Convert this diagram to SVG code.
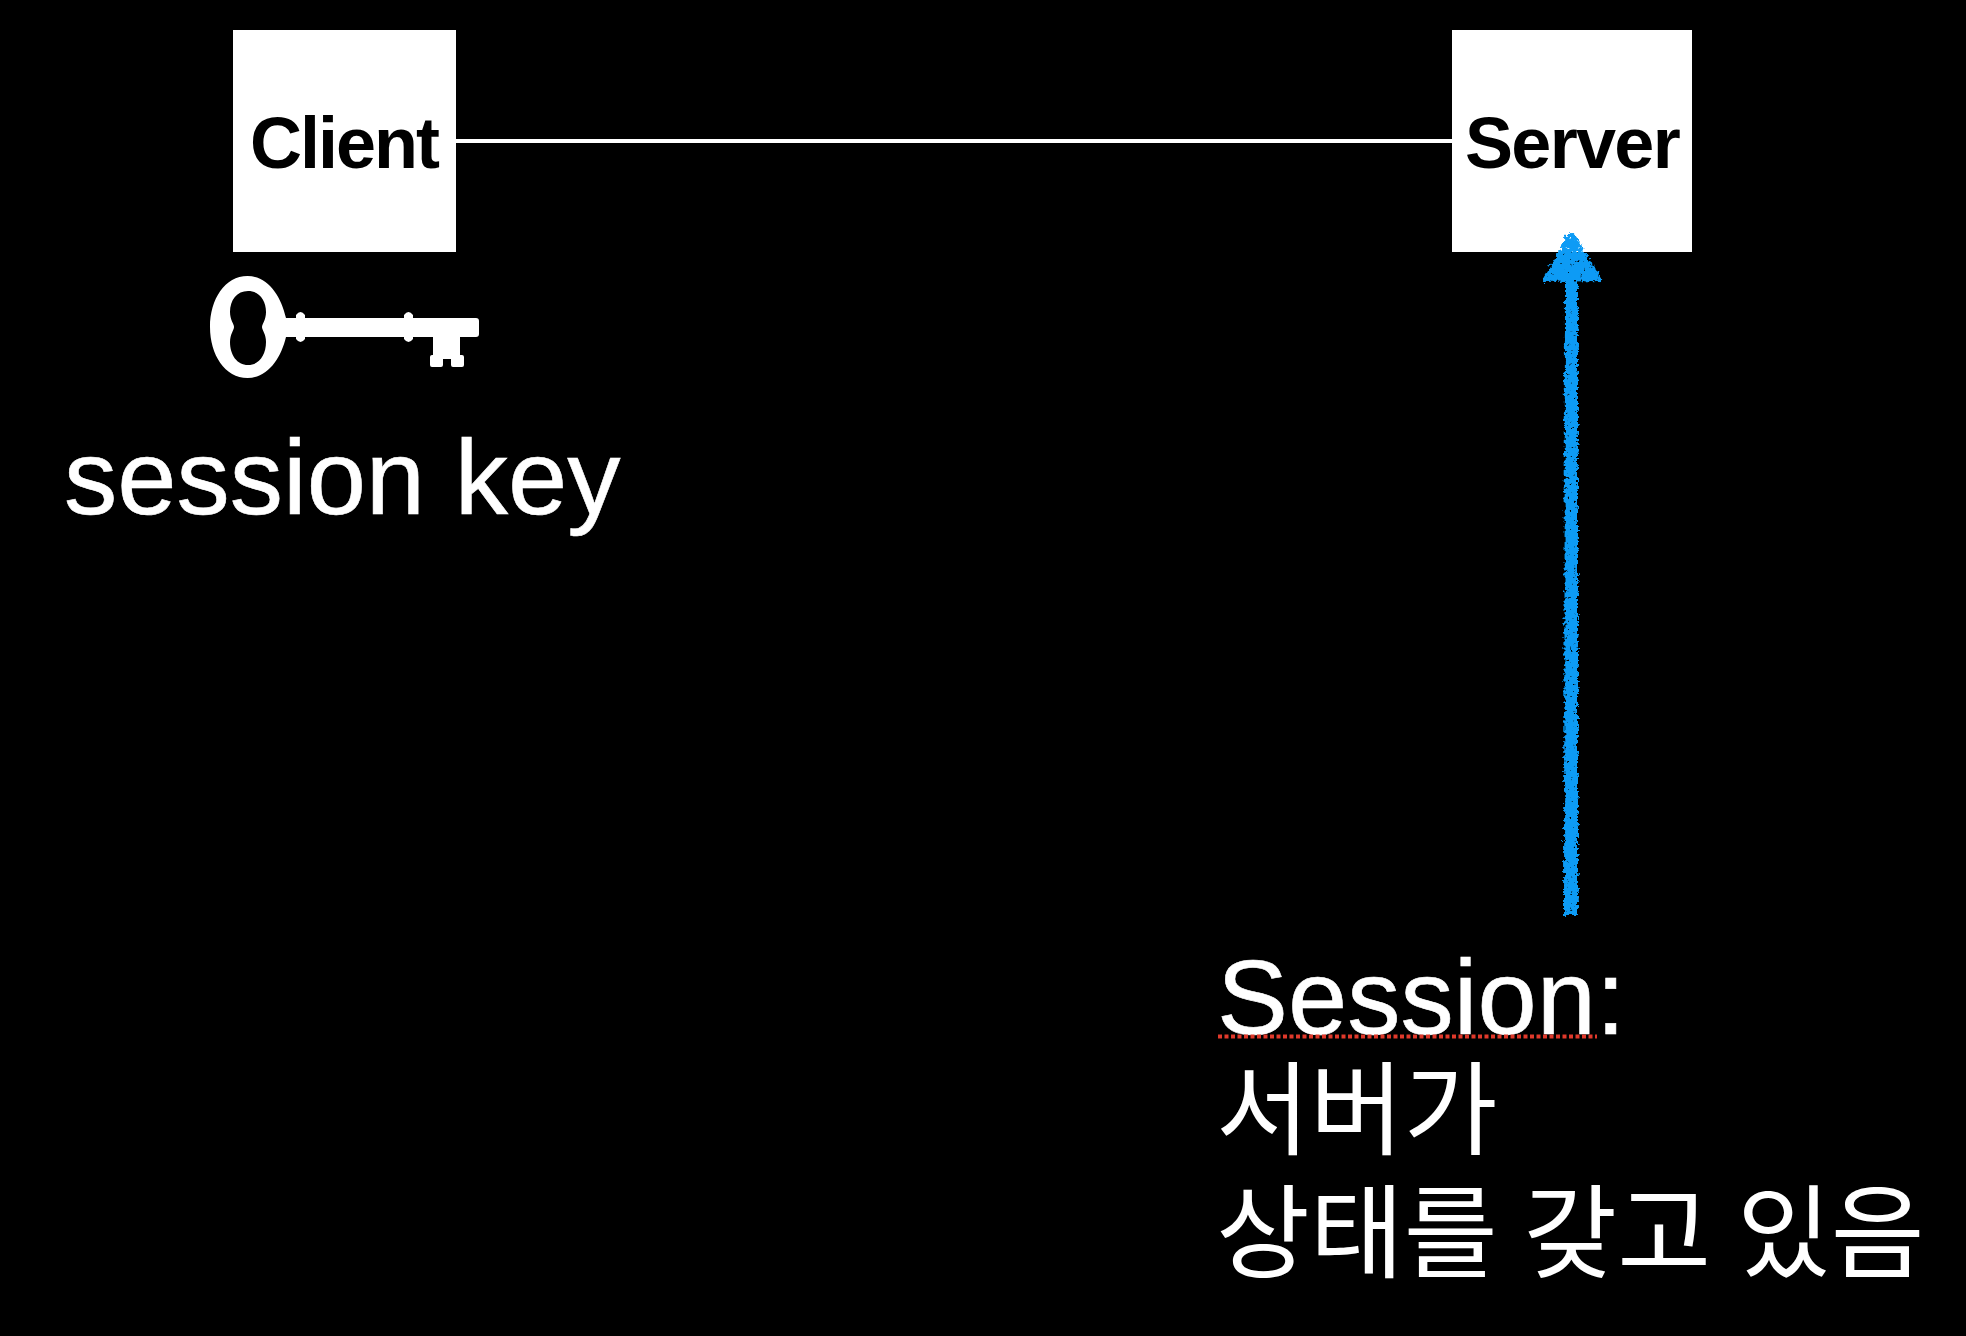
<svg xmlns="http://www.w3.org/2000/svg" width="1966" height="1336" viewBox="0 0 1966 1336">
<defs>
<style>
.box{fill:#fff}
.nl{font-family:"Liberation Sans","Noto Sans CJK KR",sans-serif;font-size:72px;font-weight:700;fill:#000;text-anchor:middle}
.tx{font-family:"Liberation Sans","Noto Sans CJK KR",sans-serif;font-size:106.500px;fill:#fff;stroke:#fff;stroke-width:.6px}
.ko{font-family:"Noto Sans CJK KR",sans-serif;font-size:102px;fill:#fff;word-spacing:3px}
</style>
<filter id="rough" x="-100%" y="-5%" width="300%" height="110%">
<feTurbulence type="fractalNoise" baseFrequency="0.3" numOctaves="2" seed="4" result="n"/>
<feDisplacementMap in="SourceGraphic" in2="n" scale="8" xChannelSelector="R" yChannelSelector="G" result="d"/>
<feColorMatrix in="n" type="matrix" values="0 0 0 0 0 0 0 0 0 0 0 0 0 0 0 9 0 0 0 -1.700" result="m"/>
<feComposite in="d" in2="m" operator="in"/>
</filter>
</defs>
<rect width="1966" height="1336" fill="#000"/>
<g id="connectors">
<line x1="456" y1="141" x2="1452" y2="141" stroke="#fff" stroke-width="4"/>
</g>
<g id="client"><rect class="box" x="233" y="30" width="223" height="222"/><text class="nl" x="344" y="168" letter-spacing="-2">Client</text></g>
<g id="server"><rect class="box" x="1452" y="30" width="240" height="222"/><text class="nl" x="1572" y="168" letter-spacing="-1.700">Server</text></g>
<g id="session-arrow" filter="url(#rough)" fill="#0a9bf5">
<path d="M1564 915 L1565 276 L1578 276 L1578 915 Z"/>
<path d="M1571 233 C1575 233 1579 240 1582 248 L1603 281 L1541 282 L1561 248 C1563 240 1567 233 1571 233 Z"/>
</g>
<g id="key">
<path fill="#fff" fill-rule="evenodd" d="M247.500 276 C268 276 281 296 286 318 L296 318 L296 315 Q300.500 309 305 315 L305 318 L404 318 L404 315 Q408.500 309 413 315 L413 318 L476 318 Q479 318 479 321 L479 334 Q479 337 476 337 L460 337 L460 355 L462 355 Q464 355 464 357 L464 365 Q464 367 462 367 L453 367 Q451 367 451 365 L451 359 L443 359 L443 365 Q443 367 441 367 L432 367 Q430 367 430 365 L430 357 Q430 355 432 355 L433 355 L433 337 L413 337 L413 339 Q408.500 345 404 339 L404 337 L305 337 L305 339 Q300.500 345 296 339 L296 337 L286 337 C281 358 268 378 247.500 378 C225 378 210 355 210 327 C210 299 225 276 247.500 276 Z M248 291 C237 291 230 300 230 312 C230 320 234 324 234 327 C234 330 230 334 230 342 C230 355 237 365 248 365 C259 365 266 355 266 342 C266 334 262 330 262 327 C262 324 266 320 266 312 C266 300 259 291 248 291 Z"/>
</g>
<g id="session-key-label"><text class="tx" x="64" y="514">session key</text></g>
<g id="session-label">
<text class="tx" x="1217" y="1034">Session:</text>
<path d="M1218 1036.500 H1597" stroke="#e0392b" stroke-width="4" stroke-dasharray="4 2.500" fill="none"/>
<text class="ko" x="1216" y="1147">서버가</text>
<text class="ko" x="1216" y="1270">상태를 갖고 있음</text>
</g>
</svg>
